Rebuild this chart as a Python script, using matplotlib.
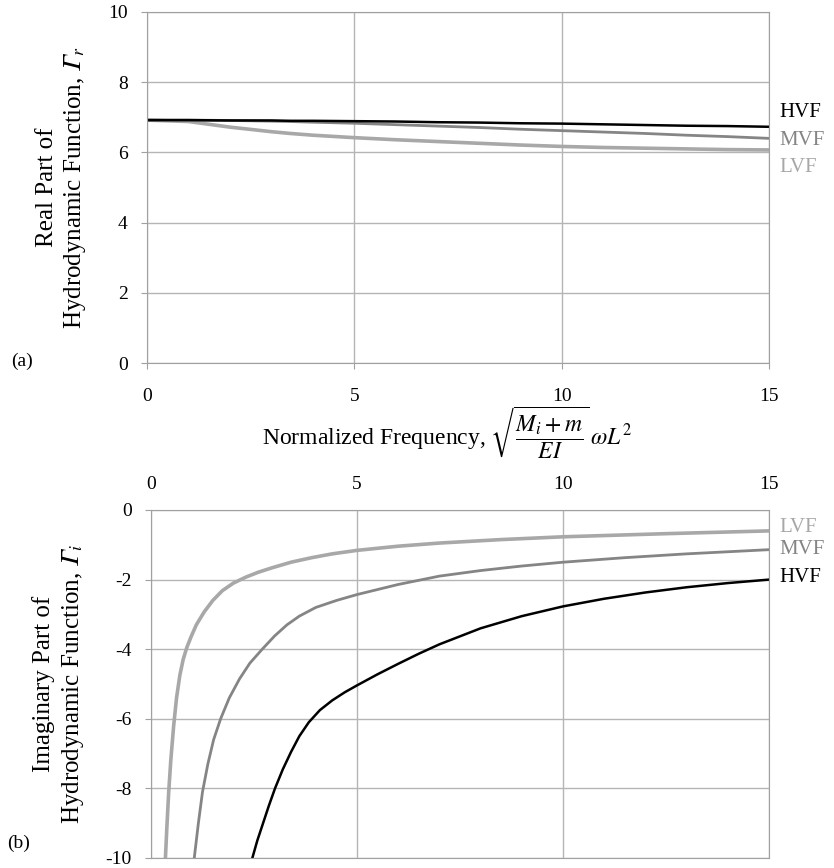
import numpy as np
import matplotlib
matplotlib.use('Agg')
import matplotlib.pyplot as plt

plt.rcParams['font.family'] = ['Liberation Serif', 'DejaVu Serif']
plt.rcParams['mathtext.fontset'] = 'stix'
plt.rcParams['axes.unicode_minus'] = False

# real part (a)
xReal = [0, 1, 2, 3, 3.45, 4, 5, 6, 7, 8, 9, 10, 11, 12, 13, 14, 15]
hvfReal = [6.92, 6.92, 6.91, 6.91, 6.90, 6.90, 6.89, 6.88, 6.86, 6.85, 6.83, 6.82, 6.80, 6.78, 6.76, 6.75, 6.73]
mvfReal = [6.92, 6.92, 6.91, 6.89, 6.88, 6.86, 6.83, 6.79, 6.75, 6.71, 6.66, 6.62, 6.58, 6.54, 6.49, 6.45, 6.40]
lvfReal = [6.92, 6.88, 6.72, 6.59, 6.54, 6.49, 6.42, 6.36, 6.31, 6.26, 6.21, 6.17, 6.14, 6.12, 6.10, 6.08, 6.07]

# imaginary part (b)
xLvfImag = [0.35, 0.39, 0.43, 0.48, 0.55, 0.62, 0.7, 0.78, 0.87, 0.97, 1.1, 1.29, 1.5, 1.73,
            2.0, 2.3, 2.6, 2.94, 3.4, 3.9, 4.4, 5, 6, 7, 8.5, 10, 12.5, 15]
lvfImag = [-10, -9, -8.1, -7.2, -6.2, -5.4, -4.75, -4.3, -3.95, -3.65, -3.3, -2.93, -2.6, -2.32,
           -2.1, -1.93, -1.79, -1.66, -1.5, -1.37, -1.26, -1.16, -1.04, -0.95, -0.85, -0.77, -0.68, -0.6]
xMvfImag = [1.05, 1.15, 1.25, 1.38, 1.52, 1.69, 1.9, 2.15, 2.4, 2.7, 3.0, 3.3, 3.6, 4.0, 4.5,
            5, 6, 7, 8, 9, 10, 11.5, 13, 15]
mvfImag = [-10, -9, -8.1, -7.3, -6.6, -6.0, -5.4, -4.85, -4.4, -4.0, -3.62, -3.3, -3.05, -2.8, -2.6,
           -2.43, -2.14, -1.9, -1.74, -1.61, -1.5, -1.37, -1.26, -1.14]
xHvfImag = [2.46, 2.58, 2.72, 2.86, 3.01, 3.2, 3.4, 3.6, 3.83, 4.1, 4.4, 4.7, 5, 5.5, 6, 6.5, 7,
            8, 9, 10, 11, 12, 13, 14, 15]
hvfImag = [-10, -9.5, -9, -8.5, -8, -7.45, -6.95, -6.5, -6.1, -5.75, -5.47, -5.24, -5.04, -4.72,
           -4.42, -4.13, -3.86, -3.4, -3.05, -2.77, -2.55, -2.37, -2.22, -2.1, -2.0]

cH = 'black'
cM = '#858585'
cL = '#a8a8a8'
gridc = '#b5b5b5'

fig = plt.figure(figsize=(8.34, 8.68), dpi=100)
ax1 = fig.add_axes([147/834, 1-363/868, (769-147)/834, (363-12)/868])
ax2 = fig.add_axes([151/834, 1-858/868, (769-151)/834, (858-510)/868])

def style(ax):
    ax.grid(True, color=gridc, lw=1)
    ax.set_axisbelow(True)
    for s in ax.spines.values():
        s.set_color('#a0a0a0')
    ax.tick_params(colors='#a0a0a0', labelcolor='black', labelsize=14, length=4)
    ax.set_xlim(0, 15)
    ax.set_xticks([0, 5, 10, 15])

gammaIt = '\U0001D6E4'  # mathematical italic capital gamma

style(ax1)
ax1.plot(xReal, lvfReal, color=cL, lw=2.6, solid_capstyle='butt')
ax1.plot(xReal, mvfReal, color=cM, lw=2.0, solid_capstyle='butt')
ax1.plot(xReal, hvfReal, color=cH, lw=1.8, solid_capstyle='butt')
ax1.set_ylim(0, 10)
ax1.set_yticks([0, 2, 4, 6, 8, 10])
ax1.tick_params(axis='x', pad=14)
ax1.tick_params(axis='y', pad=10)
ax1.set_ylabel('Real Part of\nHydrodynamic Function, $\\mathrm{' + gammaIt + '}_r$',
               fontsize=18, labelpad=14, linespacing=1.25)
ax1.text(15.25, 6.73 + 0.4, 'HVF', color=cH, fontsize=15, va='center', clip_on=False)
ax1.text(15.25, 6.40 - 0.05, 'MVF', color=cM, fontsize=15, va='center', clip_on=False)
ax1.text(15.25, 6.07 - 0.5, 'LVF', color=cL, fontsize=15, va='center', clip_on=False)

style(ax2)
ax2.plot(xLvfImag, lvfImag, color=cL, lw=2.6)
ax2.plot(xMvfImag, mvfImag, color=cM, lw=2.0)
ax2.plot(xHvfImag, hvfImag, color=cH, lw=1.8)
ax2.set_ylim(-10, 0)
ax2.set_yticks([-10, -8, -6, -4, -2, 0])
ax2.xaxis.tick_top()
ax2.tick_params(axis='x', length=0, pad=12)
ax2.tick_params(axis='y', pad=10)
ax2.set_ylabel('Imaginary Part of\nHydrodynamic Function, $\\mathrm{' + gammaIt + '}_i$',
               fontsize=18, labelpad=14, linespacing=1.25)
ax2.text(15.25, -0.6 + 0.1, 'LVF', color=cL, fontsize=15, va='center', clip_on=False)
ax2.text(15.25, -1.14, 'MVF', color=cM, fontsize=15, va='center', clip_on=False)
ax2.text(15.25, -2.0 + 0.05, 'HVF', color=cH, fontsize=15, va='center', clip_on=False)

fig.text(447/834, 1-432/868, 'Normalized Frequency, $\\sqrt{\\dfrac{M_i+m}{EI}}\\,\\omega L^2$',
         fontsize=17, ha='center', va='center')
fig.text(22/834, 1-361/868, '(a)', fontsize=14, ha='center', va='center')
fig.text(19/834, 1-843/868, '(b)', fontsize=14, ha='center', va='center')

fig.savefig('out.png', dpi=100)
